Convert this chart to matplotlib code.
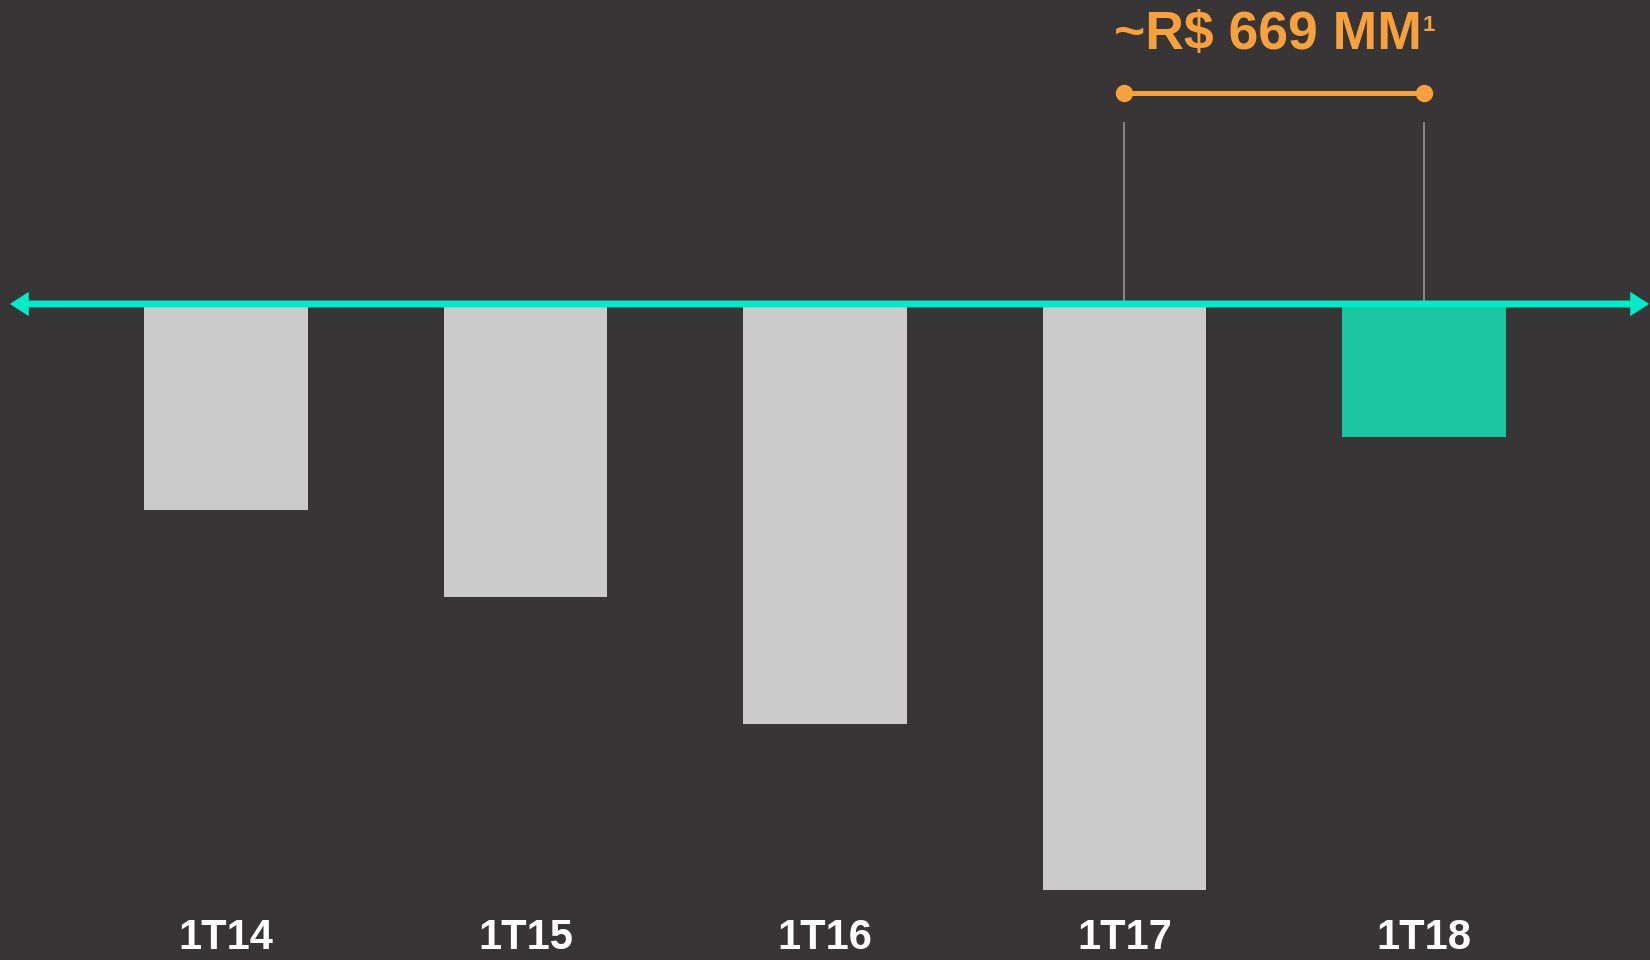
import numpy as np
import matplotlib
matplotlib.use('Agg')
import matplotlib.pyplot as plt

# dados (R$ MM)
trimestres = ['1T14', '1T15', '1T16', '1T17', '1T18']
valores = [-304, -433, -620, -866, -197]
destaque = '~R$ 669 MM'
nota = '1'

bg = '#373536'
cinza = '#CBCBCB'
verde = '#19C6A0'
eixo_cor = '#00EBC7'
laranja = '#F7A03C'

plt.rcParams['font.family'] = ['Liberation Sans', 'DejaVu Sans']

fig = plt.figure(figsize=(16.5, 9.6), dpi=100, facecolor=bg)
ax = fig.add_axes([0, 0, 1, 1], facecolor=bg)
ax.set_xlim(-0.755, 4.755)
ax.set_ylim(-969, 449)
ax.axis('off')

x = np.arange(len(trimestres))
cores = [cinza] * (len(valores) - 1) + [verde]
ax.bar(x, valores, width=0.545, color=cores, zorder=2)

# eixo com setas nas duas pontas
ax.annotate('', xy=(-0.722, 0), xytext=(4.752, 0),
            arrowprops=dict(arrowstyle='<|-|>,head_length=0.65,head_width=0.42',
                            color=eixo_cor, lw=5, shrinkA=0, shrinkB=0,
                            joinstyle='miter'),
            zorder=4)

# linhas de referência e colchete da diferença
topo = 267
nivel = 312
for i in [3, 4]:
    ax.plot([x[i], x[i]], [0, topo], color='#A0A0A0', lw=1.1, zorder=1)
ax.plot([x[3], x[4]], [nivel, nivel], color=laranja, lw=3.6,
        marker='o', ms=11.5, solid_capstyle='butt', zorder=3)

t = ax.text((x[3] + x[4]) / 2 - 0.02, 376, destaque, color=laranja, fontsize=38.5,
            fontweight='bold', ha='center', va='baseline')
ax.annotate(nota, xy=(1.0, 0.9), xycoords=t, color=laranja, fontsize=16,
            fontweight='bold', ha='left', va='top')

for i, lab in enumerate(trimestres):
    ax.text(x[i], -966, lab, color='white', fontsize=30, fontweight='bold',
            ha='center', va='bottom')

fig.savefig('out.png', dpi=100, facecolor=bg)
